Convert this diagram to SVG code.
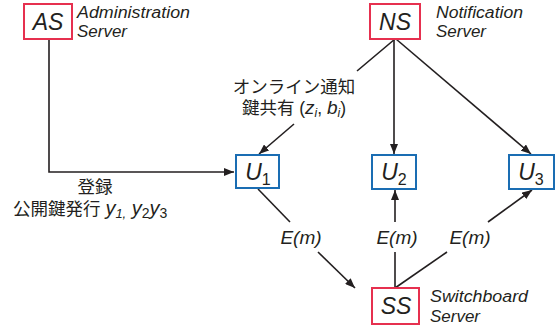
<svg xmlns="http://www.w3.org/2000/svg" width="559" height="330" viewBox="0 0 559 330">
<style>
.red{fill:#fff;stroke:#e6304f;stroke-width:2}
.blue{fill:#fff;stroke:#1a6db3;stroke-width:2}
.ln{fill:none;stroke:#231f20;stroke-width:1.6}
.t{font-family:"Liberation Sans",Arial,sans-serif;fill:#231f20}
.big{font-size:23px;font-style:italic}
.lab{font-size:16px;font-style:italic}
.jp{font-family:"Liberation Sans","Noto Sans CJK JP",sans-serif;font-size:17.5px;fill:#231f20}
.em{font-size:19px;font-style:italic}
</style>
<defs>
<marker id="ah" viewBox="0 0 10 8" refX="10" refY="4" markerWidth="10" markerHeight="8" markerUnits="userSpaceOnUse" orient="auto">
<path d="M0,0 L10,4 L0,8 Z" fill="#231f20"/>
</marker>
</defs>
<g id="connectors">
<polyline class="ln" points="49,39 49,172 234,172" marker-end="url(#ah)"/>
<line class="ln" x1="395" y1="39" x2="357" y2="71"/>
<line class="ln" x1="294" y1="124" x2="259" y2="154" marker-end="url(#ah)"/>
<line class="ln" x1="394" y1="39" x2="394" y2="154" marker-end="url(#ah)"/>
<line class="ln" x1="396" y1="39" x2="531" y2="154" marker-end="url(#ah)"/>
<line class="ln" x1="258" y1="189" x2="290" y2="222"/>
<line class="ln" x1="318" y1="252" x2="355" y2="288" marker-end="url(#ah)"/>
<line class="ln" x1="395" y1="288" x2="395" y2="252"/>
<line class="ln" x1="395" y1="222" x2="395" y2="190" marker-end="url(#ah)"/>
<line class="ln" x1="395" y1="288" x2="447" y2="252"/>
<line class="ln" x1="488" y1="222" x2="532" y2="190" marker-end="url(#ah)"/>
<text class="t em" x="301" y="244" text-anchor="middle">E(m)</text>
<text class="t em" x="397" y="244" text-anchor="middle">E(m)</text>
<text class="t em" x="470" y="244" text-anchor="middle">E(m)</text>
<text class="jp" x="294" y="93" text-anchor="middle">オンライン通知</text>
<text class="jp" x="294" y="114" text-anchor="middle">鍵共有 (<tspan font-style="italic" font-size="19">z</tspan><tspan font-style="italic" font-size="12" dy="3">i</tspan><tspan dy="-3">, </tspan><tspan font-style="italic" font-size="19">b</tspan><tspan font-style="italic" font-size="12" dy="3">i</tspan><tspan dy="-3">)</tspan></text>
<text class="jp" x="95" y="193" text-anchor="middle">登録</text>
<text class="jp" x="13" y="215">公開鍵発行 <tspan font-style="italic" font-size="20">y</tspan><tspan font-style="italic" font-size="13" dy="3">1,</tspan><tspan dy="-3" font-style="italic" font-size="20"> y</tspan><tspan font-size="14" dy="3">2</tspan><tspan dy="-3" font-style="italic" font-size="20">y</tspan><tspan font-size="14" dy="3">3</tspan></text>
</g>
<g id="AS">
<rect class="red" x="24" y="4" width="48" height="35"/>
<text class="t big" x="48" y="30" text-anchor="middle">AS</text>
<text class="t lab" x="77" y="18" textLength="113" lengthAdjust="spacingAndGlyphs">Administration</text>
<text class="t lab" x="77" y="37" textLength="50" lengthAdjust="spacingAndGlyphs">Server</text>
</g>
<g id="NS">
<rect class="red" x="370" y="4" width="50" height="35"/>
<text class="t big" x="395" y="30" text-anchor="middle">NS</text>
<text class="t lab" x="436" y="18" textLength="87" lengthAdjust="spacingAndGlyphs">Notification</text>
<text class="t lab" x="436" y="37" textLength="50" lengthAdjust="spacingAndGlyphs">Server</text>
</g>
<g id="U1">
<rect class="blue" x="236" y="155" width="43" height="33"/>
<text class="t" x="258" y="180" text-anchor="middle"><tspan class="big">U</tspan><tspan font-size="16" dy="5">1</tspan></text>
</g>
<g id="U2">
<rect class="blue" x="372" y="155" width="44" height="34"/>
<text class="t" x="394" y="180" text-anchor="middle"><tspan class="big">U</tspan><tspan font-size="16" dy="5">2</tspan></text>
</g>
<g id="U3">
<rect class="blue" x="509" y="155" width="45" height="34"/>
<text class="t" x="531" y="180" text-anchor="middle"><tspan class="big">U</tspan><tspan font-size="16" dy="5">3</tspan></text>
</g>
<g id="SS">
<rect class="red" x="372" y="288" width="47" height="36"/>
<text class="t big" x="396" y="314" text-anchor="middle">SS</text>
<text class="t lab" x="430" y="302" textLength="98" lengthAdjust="spacingAndGlyphs">Switchboard</text>
<text class="t lab" x="430" y="322" textLength="50" lengthAdjust="spacingAndGlyphs">Server</text>
</g>
</svg>
